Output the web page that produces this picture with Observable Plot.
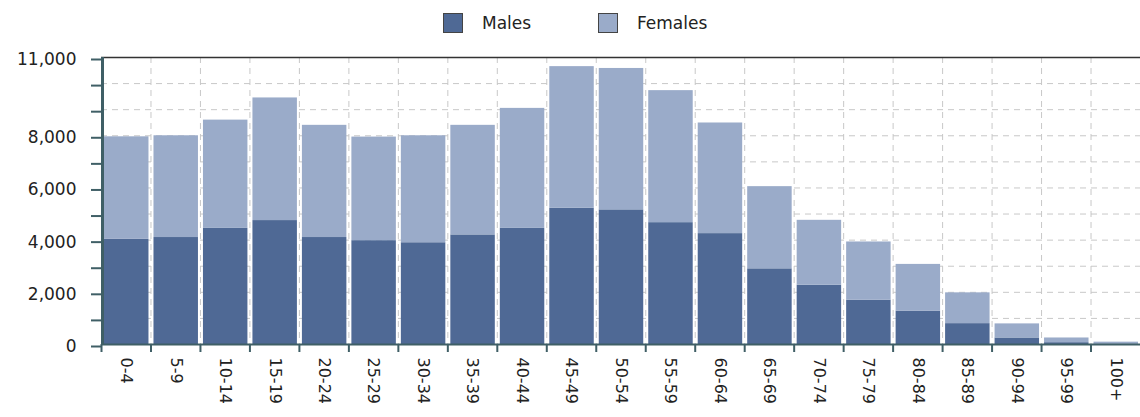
<!DOCTYPE html>
<html>
<head>
<meta charset="utf-8">
<script src="https://cdn.jsdelivr.net/npm/d3@7"></script>
<script src="https://cdn.jsdelivr.net/npm/@observablehq/plot@0.6"></script>
<style>
  html, body { margin: 0; padding: 0; background: #fff; }
  body { width: 1140px; height: 417px; overflow: hidden; font-family: "DejaVu Sans", sans-serif; position: relative; }
  #legend { height: 38px; position: relative; font-size: 17px; color: #222; }
  .item { display: flex; align-items: center; position: absolute; top: 13px; }
  .sw { width: 20px; height: 20px; box-sizing: border-box; border: 1.5px solid #444; margin-right: 19px; }
  #chart svg { display: block; }
</style>
</head>
<body>
<div id="legend"></div>
<div id="chart"></div>
<script>
const ageGroups = ["0-4","5-9","10-14","15-19","20-24","25-29","30-34","35-39","40-44","45-49","50-54","55-59","60-64","65-69","70-74","75-79","80-84","85-89","90-94","95-99","100+"];
const males   = [4030,4100,4450,4750,4100,3980,3900,4200,4450,5220,5160,4670,4250,2900,2270,1700,1280,800,250,70,20];
const females = [3930,3900,4150,4700,4300,3970,4100,4200,4600,5430,5420,5060,4240,3150,2490,2230,1790,1180,540,180,70];
const seriesNames = ["Males","Females"];
const seriesColors = ["#4f6995","#9aabc9"];
const yTicks = d3.range(0, 11001, 1000);
const yTickLabels = [0,2000,4000,6000,8000,11000];

const rows = [];
ageGroups.forEach((a, i) => {
  rows.push({age: a, sex: "Males", value: males[i]});
  rows.push({age: a, sex: "Females", value: females[i]});
});

// legend
const legend = document.getElementById("legend");
const legendX = [443, 598];
seriesNames.forEach((s, i) => {
  const it = document.createElement("div");
  it.className = "item";
  it.style.left = legendX[i] + "px";
  const sw = document.createElement("div");
  sw.className = "sw";
  sw.style.background = seriesColors[i];
  const t = document.createElement("span");
  t.textContent = s;
  it.appendChild(sw); it.appendChild(t);
  legend.appendChild(it);
});

const W = 1140, H = 379, mL = 101, mR = 0;
const bw = (W - mL - mR) / ageGroups.length;
const axisColor = "#3f5f66";
const gridColor = "#c8c8c8";

const chart = Plot.plot({
  width: W,
  height: H,
  marginTop: 19,
  marginBottom: 73,
  marginLeft: mL,
  marginRight: mR,
  style: {fontFamily: "DejaVu Sans, sans-serif", fontSize: "16px", color: "#222", background: "#fff"},
  x: {domain: ageGroups, padding: 0, round: false, label: null},
  y: {domain: [0, 11000], label: null},
  color: {domain: seriesNames, range: seriesColors},
  marks: [
    Plot.gridY(yTicks, {stroke: gridColor, strokeOpacity: 1, strokeDasharray: "6,5"}),
    Plot.ruleX(ageGroups, {x: d => d, dx: -bw / 2, stroke: gridColor, strokeDasharray: "6,5"}),
    Plot.barY(rows, {x: "age", y: "value", fill: "sex", insetLeft: 3, insetRight: 2}),
    Plot.ruleY([11000], {stroke: "#333", strokeWidth: 1.5}),
    Plot.ruleY([0], {stroke: axisColor, strokeWidth: 2}),
    Plot.ruleX(ageGroups, {x: d => d, dx: -bw / 2, y1: 0, y2: 0, insetTop: 0, insetBottom: -8, stroke: axisColor, strokeWidth: 2}),
    Plot.ruleX([ageGroups[0]], {x: d => d, dx: -bw / 2 + 1, stroke: axisColor, strokeWidth: 3}),
    Plot.axisY({ticks: yTicks, tickSize: 10, tickPadding: 15, stroke: axisColor, strokeWidth: 2, fontSize: 17, dy: 2,
      tickFormat: d => yTickLabels.includes(d) ? d3.format(",")(d) : ""}),
    Plot.axisX({tickSize: 0, tickPadding: 13, tickRotate: 90, fontSize: 16})
  ]
});
document.getElementById("chart").appendChild(chart);
</script>
</body>
</html>
